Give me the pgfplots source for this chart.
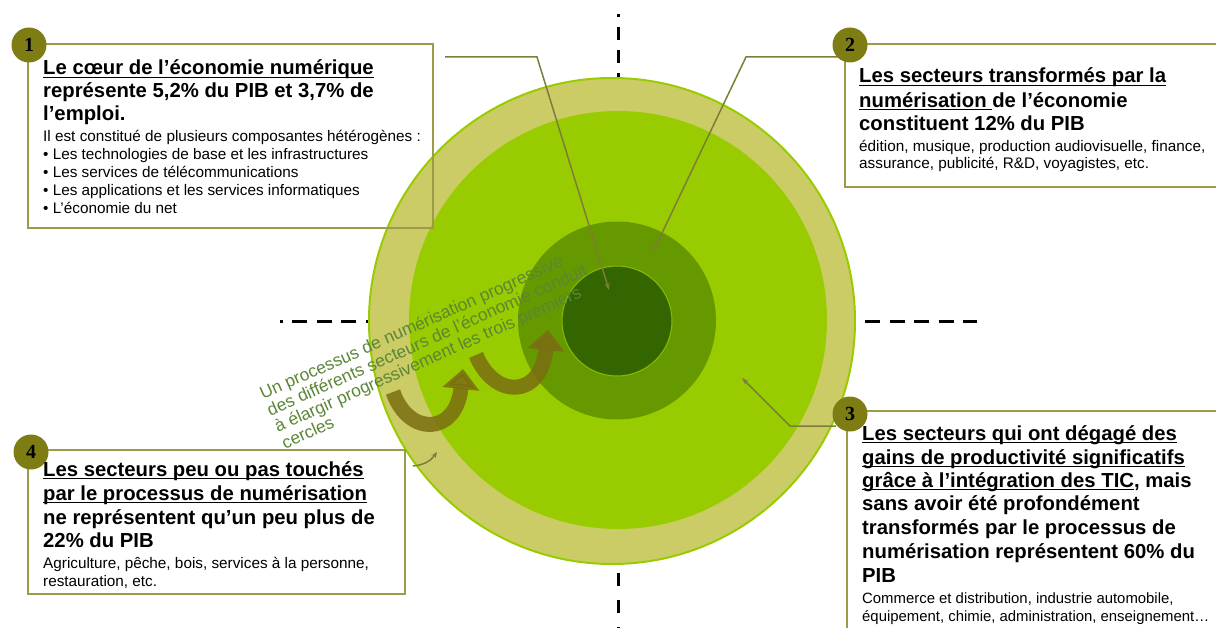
\documentclass[border=0pt]{standalone}
\usepackage{fontspec}
\setmainfont{Liberation Sans}
\newfontfamily\serifb{Liberation Serif}
\usepackage{pgfplots}
\pgfplotsset{compat=1.18}
\usetikzlibrary{arrows.meta}
\definecolor{khaki}{HTML}{CCCC66}
\definecolor{lime}{HTML}{99CC00}
\definecolor{midg}{HTML}{669900}
\definecolor{darkg}{HTML}{336600}
\definecolor{badge}{HTML}{7D7D14}
\definecolor{boxc}{HTML}{9C9C48}
\definecolor{rottext}{HTML}{5B8636}
\definecolor{arrowc}{HTML}{7A6E12}
\newcommand\ul[1]{\setbox0\hbox{#1}\rlap{\rule[-3.2bp]{\wd0}{1.5bp}}\box0}
\tikzset{
  ttl/.style={anchor=base west, inner sep=0pt, text=black, font=\fontsize{20.3bp}{23bp}\selectfont\bfseries},
  bdy/.style={anchor=base west, inner sep=0pt, text=black, font=\fontsize{15.3bp}{17bp}\selectfont},
  bdyb/.style={anchor=base west, inner sep=0pt, text=black, font=\fontsize{14.9bp}{17bp}\selectfont},
  rot/.style={anchor=base west, inner sep=0pt, text=rottext, rotate=24, font=\fontsize{17.4bp}{18bp}\selectfont},
  num/.style={inner sep=0pt, text=black, font=\serifb\bfseries\fontsize{20bp}{20bp}\selectfont},
}
\begin{document}
\begin{tikzpicture}
\path[use as bounding box, clip] (0,0) rectangle (1216bp,628bp);
\begin{axis}[at={(0,0)}, anchor=south west, width=1216bp, height=628bp, scale only axis,
  xmin=0, xmax=1216, ymin=0, ymax=628, y dir=reverse, hide axis, clip=false]
% dashed cross
\draw[black, line width=3bp, dash pattern=on 13bp off 10bp, dash phase=10bp] (618,14) -- (618,82);
\draw[black, line width=3bp, dash pattern=on 13bp off 14bp] (618,573) -- (618,628);
\draw[black, line width=3bp, dash pattern=on 15bp off 9.5bp, dash phase=12.5bp] (280,321) -- (400,321);
\draw[black, line width=3bp, dash pattern=on 15bp off 9.5bp] (865,321) -- (977,321);
% rings
\fill[khaki, draw=lime, line width=2bp] (612,321) circle [radius=243];
\fill[lime] (618,320) circle [radius=209];
\fill[midg] (617,320.5) circle [radius=99];
\fill[darkg, draw=lime!70!midg, line width=1bp] (617,321) circle [radius=55];
% curved block arrows
\draw[arrowc, opacity=0.85, line width=15bp, -{Triangle[length=20bp,width=36bp]}] (393,392) .. controls (408,436) and (456,436) .. (463,369);
\draw[arrowc, opacity=0.85, line width=15bp, -{Triangle[length=20bp,width=36bp]}] (476,355) .. controls (494,399) and (541,399) .. (548,330);
% rotated text
\node[rot] at (263,400) {Un processus de numérisation progressive};
\node[rot] at (270.3,416.4) {des différents secteurs de l’économie conduit};
\node[rot] at (277.6,432.8) {à élargir progressivement les trois premiers};
\node[rot] at (284.9,449.2) {cercles};
% callout lines
\draw[boxc!80!black, line width=1.5bp, -{Stealth[length=7bp,width=5bp]}] (445,57) -- (537,57) -- (609,290);
\draw[boxc!80!black, line width=1.5bp, -{Stealth[length=7bp,width=5bp]}] (843,57) -- (746,57) -- (653,252);
\draw[boxc!80!black, line width=1.5bp, -{Stealth[length=7bp,width=5bp]}] (836,426) -- (790,426) -- (742,378);
\draw[boxc!80!black, line width=1.5bp, -{Stealth[length=6bp,width=5bp]}] (413,466) to[bend right=25] (437,452);
% boxes
\draw[boxc, line width=2.5bp] (28,44) rectangle (433,228);
\draw[boxc, line width=2.5bp] (845,44) rectangle (1240,187);
\draw[boxc, line width=2.5bp] (847,411) rectangle (1240,650);
\draw[boxc, line width=2.5bp] (28,450) rectangle (405,594);
% badges
\fill[badge] (29,45) circle [radius=17.5];
\node[num] at (29,45) {1};
\fill[badge] (850,45) circle [radius=17.5];
\node[num] at (850,45) {2};
\fill[badge] (850,414) circle [radius=17.5];
\node[num] at (850,414) {3};
\fill[badge] (31,452) circle [radius=17.5];
\node[num] at (31,452) {4};
% box 1
\node[ttl] at (43,75) {\ul{Le cœur de l’économie numérique}};
\node[ttl] at (43,97.5) {représente 5,2\% du PIB et 3,7\% de};
\node[ttl] at (43,120) {l’emploi.};
\node[bdy] at (43,141) {Il est constitué de plusieurs composantes hétérogènes :};
\node[bdy] at (43,159) {• Les technologies de base et les infrastructures};
\node[bdy] at (43,177) {• Les services de télécommunications};
\node[bdy] at (43,195) {• Les applications et les services informatiques};
\node[bdy] at (43,213) {• L’économie du net};
% box 2
\node[ttl] at (859,83) {\ul{Les secteurs transformés par la}};
\node[ttl] at (859,107) {\ul{numérisation }de l’économie};
\node[ttl] at (859,130) {constituent 12\% du PIB};
\node[bdy] at (859,151) {édition, musique, production audiovisuelle, finance,};
\node[bdy] at (859,168) {assurance, publicité, R\&D, voyagistes, etc.};
% box 3
\node[ttl] at (862,440) {\ul{Les secteurs qui ont dégagé des}};
\node[ttl] at (862,464) {\ul{gains de productivité significatifs}};
\node[ttl] at (862,487) {\ul{grâce à l’intégration des TIC}, mais};
\node[ttl] at (862,510) {sans avoir été profondément};
\node[ttl] at (862,534) {transformés par le processus de};
\node[ttl] at (862,558) {numérisation représentent 60\% du};
\node[ttl] at (862,582) {PIB};
\node[bdyb] at (862,603) {Commerce et distribution, industrie automobile,};
\node[bdyb] at (862,621) {équipement, chimie, administration, enseignement…};
% box 4
\node[ttl] at (43,476) {\ul{Les secteurs peu ou pas touchés}};
\node[ttl] at (43,500) {\ul{par le processus de numérisation}};
\node[ttl] at (43,524) {ne représentent qu’un peu plus de};
\node[ttl] at (43,547) {22\% du PIB};
\node[bdy] at (43,568) {Agriculture, pêche, bois, services à la personne,};
\node[bdy] at (43,586) {restauration, etc.};
\end{axis}
\end{tikzpicture}
\end{document}
